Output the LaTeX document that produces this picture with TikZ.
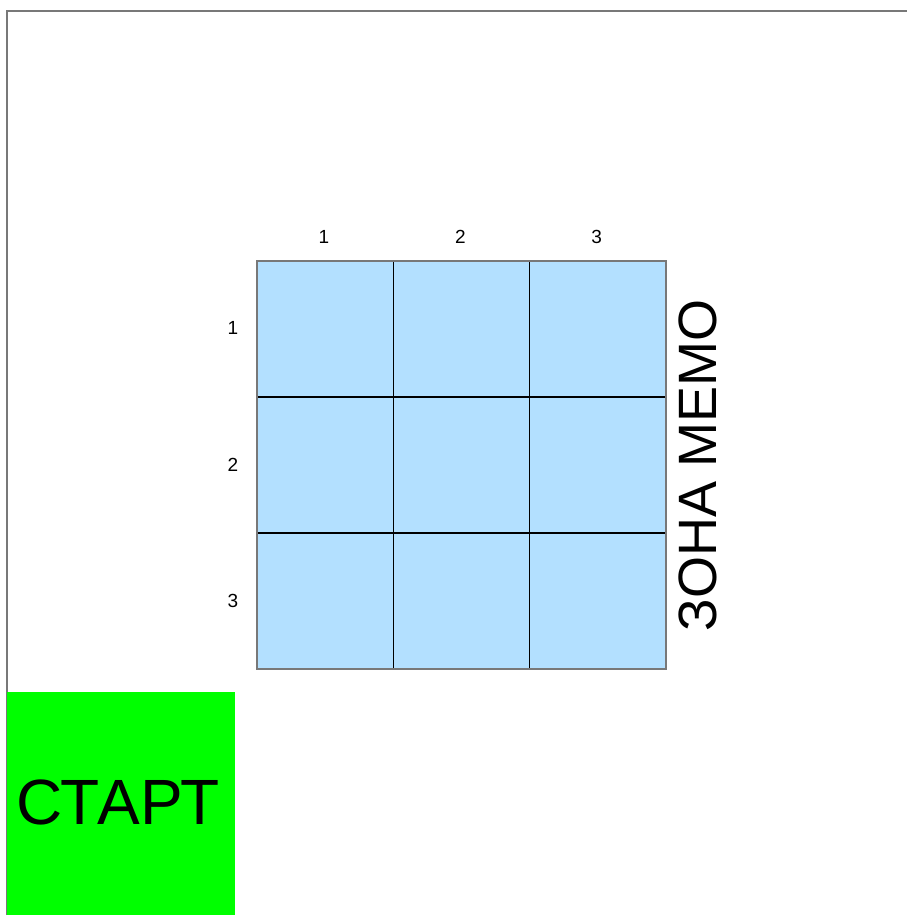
\documentclass[tikz,border=0pt]{standalone}
\usepackage{fontspec}
\setmainfont{Liberation Sans}
\begin{document}
\begin{tikzpicture}[x=1pt,y=-1pt]
    % colours of the board
    \definecolor{cellblue}{RGB}{179,224,255}
    \definecolor{startgreen}{RGB}{0,255,0}
    \definecolor{framegray}{RGB}{120,120,120}
    \tikzset{numlabel/.style={font=\fontsize{19}{19}\selectfont, inner sep=0pt}}

    % 0. page size and outer frame
    \useasboundingbox (0,0) rectangle (907,915);
    \fill[white] (0,0) rectangle (907,915);
    \draw[framegray, line width=2pt] (7,915) -- (7,11) -- (907,11);

    % 1. cells of the 3x3 board
    \foreach \c in {0,1,2} {
        \foreach \r in {0,1,2} {
            \fill[cellblue] (257+136.3*\c,261+136*\r) rectangle ++(136.3,136);
        }
    }
    \foreach \i in {1,2} {
        \draw[black, line width=1.1pt] (257+136.3*\i,261) -- (257+136.3*\i,669);
        \draw[black, line width=1.1pt] (257,261+136*\i) -- (666,261+136*\i);
    }
    \draw[framegray, line width=1.2pt] (257,261) rectangle (666,669);

    % 2. numbers of columns and rows
    \foreach \n in {1,2,3} {
        \node[numlabel] (col\n) at (324+136.3*\n-136.3,237) {\n};
        \node[numlabel] (row\n) at (233,328+136.5*\n-136.5) {\n};
    }

    % 3. memo zone, turned upright
    \node[font=\fontsize{54}{54}\selectfont, rotate=90, inner sep=0pt] (memo) at (698,465) {ЗОНА МЕМО};

    % 4. start square
    \fill[startgreen] (7,692) rectangle (235,915);
    \node[font=\fontsize{64}{64}\selectfont, inner sep=0pt] (start) at (118,802) {СТАРТ};
\end{tikzpicture}
\end{document}
